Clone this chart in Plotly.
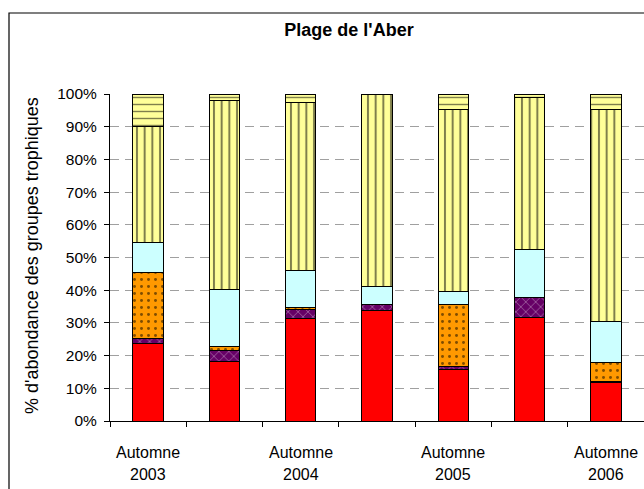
import plotly.graph_objects as go

# Sampling periods (only the autumn campaigns are labelled on the axis)
saisons = ["Automne", "", "Automne", "", "Automne", "", "Automne"]
annees = ["2003", "", "2004", "", "2005", "", "2006"]
positions = [0, 1, 2, 3, 4, 5, 6]

# Relative abundance (%) of each trophic group, bottom to top of each bar
groupe_1 = [23.6, 18.3, 31.2, 33.8, 15.7, 31.6, 11.7]
groupe_2 = [1.6, 3.3, 2.9, 1.9, 1.0, 6.1, 0.5]
groupe_3 = [20.1, 1.2, 0.5, 0.0, 19.0, 0.0, 5.6]
groupe_4 = [9.2, 17.3, 11.5, 5.5, 4.0, 14.9, 12.5]
groupe_5 = [35.5, 57.9, 51.3, 58.8, 55.7, 46.4, 65.1]
groupe_6 = [10.0, 2.0, 2.6, 0.0, 4.6, 1.0, 4.6]

series = [
    ("Groupe 1", groupe_1, "#FF0000", dict(shape="")),
    ("Groupe 2", groupe_2, "#660066", dict(shape="x", fgcolor="#FFFFFF", size=7, solidity=0.18)),
    ("Groupe 3", groupe_3, "#FF9900", dict(shape=".", fgcolor="#000000", size=7, solidity=0.14)),
    ("Groupe 4", groupe_4, "#CCFFFF", dict(shape="")),
    ("Groupe 5", groupe_5, "#FFFF99", dict(shape="|", fgcolor="#000000", size=7.7, solidity=0.26)),
    ("Groupe 6", groupe_6, "#FFFF99", dict(shape="-", fgcolor="#000000", size=7, solidity=0.2)),
]

FONT = "Liberation Sans, Arial, sans-serif"

fig = go.Figure()
for name, vals, color, pattern in series:
    fig.add_trace(go.Bar(
        x=positions, y=vals, name=name, width=0.4,
        marker=dict(color=color, pattern=pattern,
                    line=dict(color="#000000", width=1)),
    ))

fig.update_layout(
    width=644, height=489,
    barmode="stack",
    showlegend=False,
    paper_bgcolor="#FFFFFF",
    plot_bgcolor="#FFFFFF",
    margin=dict(l=110, r=0, t=94, b=68),
    font=dict(family=FONT, color="#000000"),
    title=dict(text="<b>Plage de l'Aber</b>", x=349 / 644, xref="container", xanchor="center",
               y=1 - 30 / 489, yref="container", yanchor="middle",
               font=dict(family=FONT, size=18, color="#000000")),
)

fig.update_xaxes(
    range=[-0.5, 6.5],
    tickmode="array",
    tickvals=[p - 0.5 for p in positions] + [6.5],
    showticklabels=False,
    ticks="outside", ticklen=5, tickcolor="#000000",
    showline=True, linecolor="#000000", linewidth=1,
    showgrid=False, zeroline=False,
)

fig.update_yaxes(
    range=[0, 100],
    tick0=0, dtick=10,
    ticksuffix="%",
    ticks="outside", ticklen=5, tickcolor="#000000",
    tickfont=dict(family=FONT, size=15.5, color="#000000"),
    ticklabelstandoff=4,
    showline=True, linecolor="#000000", linewidth=1,
    showgrid=True, gridcolor="#A0A0A0", gridwidth=1, griddash="9px,6px",
    zeroline=False,
)

# Period labels under the bars
for p, s, a in zip(positions, saisons, annees):
    if s:
        fig.add_annotation(x=p, y=-0.095, xref="x", yref="paper", text=s,
                           showarrow=False, xanchor="center", yanchor="middle",
                           font=dict(family=FONT, size=16, color="#000000"))
        fig.add_annotation(x=p, y=-0.165, xref="x", yref="paper", text=a,
                           showarrow=False, xanchor="center", yanchor="middle",
                           font=dict(family=FONT, size=16, color="#000000"))

# Vertical axis title
fig.add_annotation(x=-0.146, y=0.505, xref="paper", yref="paper",
                   text="% d'abondance des groupes trophiques", textangle=-90,
                   showarrow=False, xanchor="center", yanchor="middle",
                   font=dict(family=FONT, size=18, color="#000000"))

# Chart frame
fig.add_shape(type="rect", xref="paper", yref="paper",
              x0=(9 - 110) / 534, x1=1.1, y0=-0.3, y1=(421 - 13) / 327,
              line=dict(color="#000000", width=1.2), fillcolor="rgba(0,0,0,0)",
              layer="below")

fig.write_html("out.html")
